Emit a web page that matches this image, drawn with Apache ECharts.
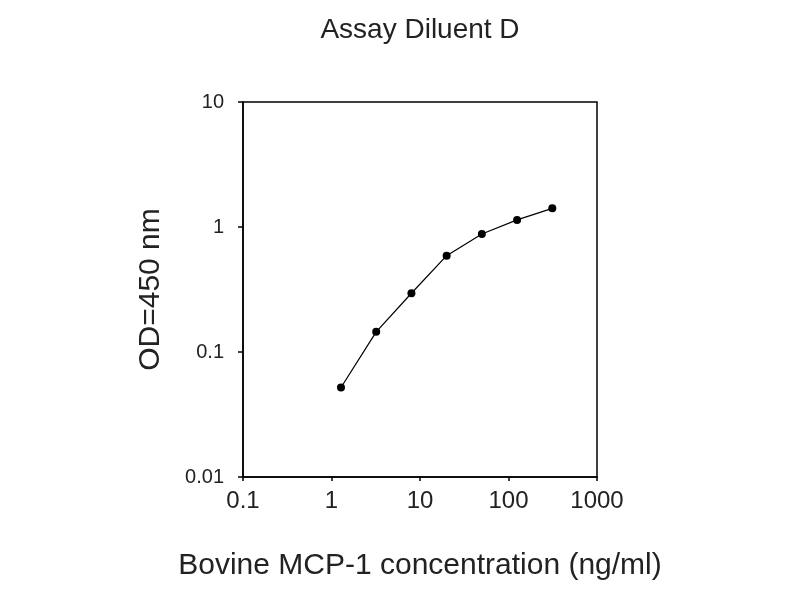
<!DOCTYPE html>
<html><head><meta charset="utf-8">
<script src="https://cdn.jsdelivr.net/npm/echarts@6/dist/echarts.min.js"></script>
<style>html,body{margin:0;padding:0;background:#fff}#c{width:800px;height:600px}</style>
</head><body><div id="c"></div>
<script>
const concentrations = [1.28, 3.2, 8, 20, 50, 125, 312.5];
const odValues = [0.052, 0.145, 0.295, 0.59, 0.88, 1.14, 1.41];
const xTickLabels = {0.1: '0.1', 1: '1', 10: '10', 100: '100', 1000: '1000'};
const yTickLabels = {0.01: '0.01', 0.1: '0.1', 1: '1', 10: '10'};
const titleText = 'Assay Diluent D';
const xName = 'Bovine MCP-1 concentration (ng/ml)';
const yName = 'OD=450 nm';

const font = 'Liberation Sans, Arial, sans-serif';
const chart = echarts.init(document.getElementById('c'));
function lbl(map, v) {
  for (const k in map) { if (Math.abs(Math.log10(v) - Math.log10(+k)) < 1e-6) return map[k]; }
  return '';
}
chart.setOption({
  animation: false,
  backgroundColor: '#fff',
  title: {
    text: titleText, left: 415, top: 11, textAlign: 'center',
    textStyle: {fontFamily: font, fontSize: 28, fontWeight: 'normal', color: '#222'}
  },
  grid: {left: 243, right: 203, top: 102, bottom: 123, show: true, borderColor: '#000', borderWidth: 1.5, backgroundColor: 'transparent'},
  xAxis: {
    type: 'log', logBase: 10, min: 0.1, max: 1000,
    name: xName, nameLocation: 'middle', nameGap: 74,
    nameTextStyle: {fontFamily: font, fontSize: 30, color: '#222'},
    axisLine: {show: true, lineStyle: {color: '#000', width: 1.5}},
    axisTick: {show: true, inside: false, length: 4, lineStyle: {color: '#000', width: 1.5}},
    minorTick: {show: false},
    splitLine: {show: false},
    axisLabel: {fontFamily: font, fontSize: 24, color: '#222', margin: 12, formatter: v => lbl(xTickLabels, v)}
  },
  yAxis: {
    type: 'log', logBase: 10, min: 0.01, max: 10,
    name: yName, nameLocation: 'middle', nameGap: 77, nameRotate: 90,
    nameTextStyle: {fontFamily: font, fontSize: 30, color: '#222'},
    axisLine: {show: true, lineStyle: {color: '#000', width: 1.5}},
    axisTick: {show: true, inside: false, length: 5, lineStyle: {color: '#000', width: 1.5}},
    splitLine: {show: false},
    axisLabel: {fontFamily: font, fontSize: 20, color: '#222', margin: 19, formatter: v => lbl(yTickLabels, v)}
  },
  series: [{
    type: 'line',
    data: concentrations.map((c, i) => [c, odValues[i]]),
    symbol: 'circle', symbolSize: 8,
    itemStyle: {color: '#000'},
    lineStyle: {color: '#000', width: 1.2}
  }]
});
</script></body></html>
